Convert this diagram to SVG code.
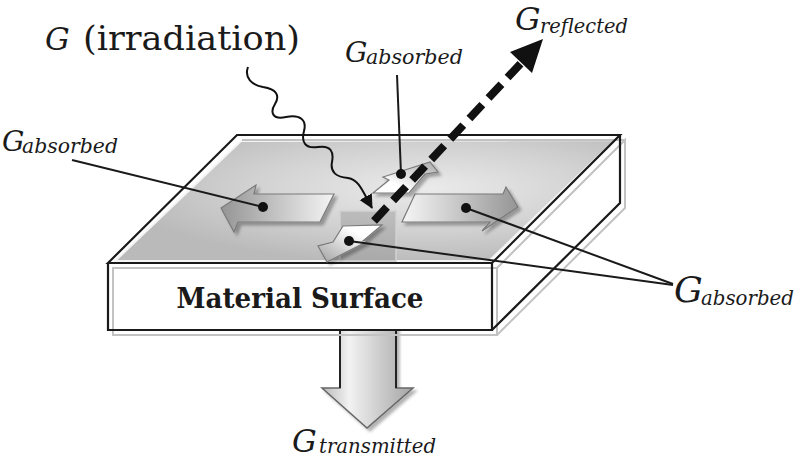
<svg xmlns="http://www.w3.org/2000/svg" width="799" height="459" viewBox="0 0 799 459">
<defs>
<style>
.lbl{font-family:"DejaVu Serif","Liberation Serif",serif;font-style:italic;fill:#1a1a1a}
.up{font-style:normal}
.edge{fill:none;stroke:#1a1a1a;stroke-width:2.2;stroke-linejoin:miter}
.ghost{fill:none;stroke:#c2c2c2;stroke-width:2}
.leader{stroke:#1a1a1a;stroke-width:2;fill:none}
.dot{fill:#111}
.sarrow{stroke:#7a7a7a;stroke-width:1.2;stroke-linejoin:miter}
</style>
<radialGradient id="topg" cx="0.62" cy="0.4" r="0.62">
<stop offset="0" stop-color="#ebebeb"/>
<stop offset="0.55" stop-color="#d2d2d2"/>
<stop offset="1" stop-color="#bababa"/>
</radialGradient>
<linearGradient id="gl" x1="0" y1="0" x2="1" y2="0">
<stop offset="0" stop-color="#959595"/>
<stop offset="1" stop-color="#f4f4f4"/>
</linearGradient>
<linearGradient id="gr" x1="0" y1="0" x2="1" y2="0">
<stop offset="0" stop-color="#f6f6f6"/>
<stop offset="1" stop-color="#959595"/>
</linearGradient>
<linearGradient id="gu" x1="0" y1="1" x2="1" y2="0">
<stop offset="0.3" stop-color="#ffffff"/>
<stop offset="1" stop-color="#a8a8a8"/>
</linearGradient>
<linearGradient id="gd" x1="1" y1="0" x2="0" y2="1">
<stop offset="0.3" stop-color="#ffffff"/>
<stop offset="1" stop-color="#a0a0a0"/>
</linearGradient>
<linearGradient id="gdown" x1="0" y1="0" x2="1" y2="0">
<stop offset="0" stop-color="#b8b8b8"/>
<stop offset="0.3" stop-color="#f2f2f2"/>
<stop offset="1" stop-color="#a4a4a4"/>
</linearGradient>
<filter id="sh" x="-20%" y="-20%" width="150%" height="150%">
<feDropShadow dx="3" dy="3" stdDeviation="1.5" flood-color="#000" flood-opacity="0.3"/>
</filter>
<marker id="wv" markerUnits="userSpaceOnUse" markerWidth="16" markerHeight="16" refX="13" refY="7" orient="auto">
<path d="M0,0 L14,7 L0,14 z" fill="#111"/>
</marker>
</defs>

<rect width="799" height="459" fill="#ffffff"/>

<g id="transmitted-arrow">
<path d="M340,326 L396,326 L396,388 L413,388 L367,428 L322,388 L340,388 Z" fill="url(#gdown)" stroke="#666" stroke-width="1.5" filter="url(#sh)"/>
<path d="M340,326 L340,388 M396,326 L396,388" stroke="#222" stroke-width="2" fill="none"/>
</g>

<g id="box">
<polygon points="108,263 492,263 492,330 108,330" fill="#ffffff"/>
<polygon points="492,263 620,135 620,203 492,330" fill="#ffffff"/>
<polygon points="108,263 237,135 620,135 492,263" fill="#ffffff"/>
<polygon points="115,261 241,141 615,140 489,261" fill="url(#topg)" stroke="#f4f4f4" stroke-width="2"/>
<rect x="340" y="211" width="56" height="51" fill="#8e8e8e" fill-opacity="0.4" stroke="#d2d2d2" stroke-width="1.5"/>
<path class="ghost" d="M113,268 L497,268 L497,335 L113,335 Z M497,268 L625,140 L625,208 L497,335 M242,140 L625,140"/>
<path class="edge" d="M108,263 L237,135 L620,135 L492,263 Z M108,263 L108,330 L492,330 L492,263 M620,135 L620,203 L492,330"/>
<text x="300" y="308" text-anchor="middle" font-family="DejaVu Serif, Liberation Serif, serif" font-weight="bold" font-size="28" fill="#1a1a1a" textLength="247" lengthAdjust="spacingAndGlyphs">Material Surface</text>
</g>

<g id="arrow-left">
<polygon class="sarrow" filter="url(#sh)" points="221,208 256,185 254,194 334,194 320,222 238,222 234,232" fill="url(#gl)"/>
</g>
<g id="arrow-right">
<polygon class="sarrow" filter="url(#sh)" points="415,194 503,194 506,187 518,207 482,231 490,222 402,222" fill="url(#gr)"/>
</g>
<g id="arrow-back">
<polygon class="sarrow" filter="url(#sh)" points="373,193 389,180 383,177 430,162 438,172 425,174 409,193" fill="url(#gu)"/>
</g>
<g id="arrow-front">
<polygon class="sarrow" filter="url(#sh)" points="343,226 382,225 363,241 368,241 327,262 318,246 333,242" fill="url(#gd)"/>
</g>

<g id="connectors">
<line class="leader" x1="72" y1="160" x2="263" y2="207"/>
<line class="leader" x1="397" y1="75" x2="401" y2="174"/>
<line class="leader" x1="673" y1="284" x2="466" y2="208"/>
<line class="leader" x1="673" y1="285" x2="349" y2="241"/>
<circle class="dot" cx="263" cy="207" r="5"/>
<circle class="dot" cx="401" cy="174" r="5"/>
<circle class="dot" cx="466" cy="208" r="5"/>
<circle class="dot" cx="349" cy="241" r="5"/>
<path d="M248,67 C244,78 252,85 263,87 C277,89 280,96 275,104 C270,112 272,120 286,117 C300,114 307,120 304,131 C301,142 305,149 318,147 C331,145 334,152 332,162 C330,172 336,177 348,178 C359,180 362,190 372,208" fill="none" stroke="#111" stroke-width="2" marker-end="url(#wv)"/>
<line x1="374" y1="221" x2="523" y2="61" stroke="#111" stroke-width="8" stroke-dasharray="19 9"/>
<polygon points="543,39 532,73 510,52" fill="#111"/>
</g>

<g id="label-irradiation">
<text class="lbl" y="50"><tspan x="45" font-size="31">G</tspan><tspan class="up" x="83" font-size="34" textLength="217" lengthAdjust="spacingAndGlyphs">(irradiation)</tspan></text>
</g>
<g id="label-absorbed-left">
<text class="lbl" y="151"><tspan x="2" font-size="28">G</tspan><tspan x="22" dy="2" font-size="20.5" textLength="96" lengthAdjust="spacingAndGlyphs">absorbed</tspan></text>
</g>
<g id="label-absorbed-top">
<text class="lbl" y="62"><tspan x="345" font-size="28">G</tspan><tspan x="366" dy="2" font-size="20.5" textLength="97" lengthAdjust="spacingAndGlyphs">absorbed</tspan></text>
</g>
<g id="label-reflected">
<text class="lbl" y="30"><tspan x="515" font-size="32">G</tspan><tspan x="540" dy="3" font-size="20" textLength="88" lengthAdjust="spacingAndGlyphs">reflected</tspan></text>
</g>
<g id="label-absorbed-right">
<text class="lbl" y="302"><tspan x="674" font-size="36">G</tspan><tspan x="701" dy="3" font-size="21" textLength="93" lengthAdjust="spacingAndGlyphs">absorbed</tspan></text>
</g>
<g id="label-transmitted">
<text class="lbl" y="452"><tspan x="292" font-size="31">G</tspan><tspan x="319" dy="1" font-size="20" textLength="117" lengthAdjust="spacingAndGlyphs">transmitted</tspan></text>
</g>
</svg>
